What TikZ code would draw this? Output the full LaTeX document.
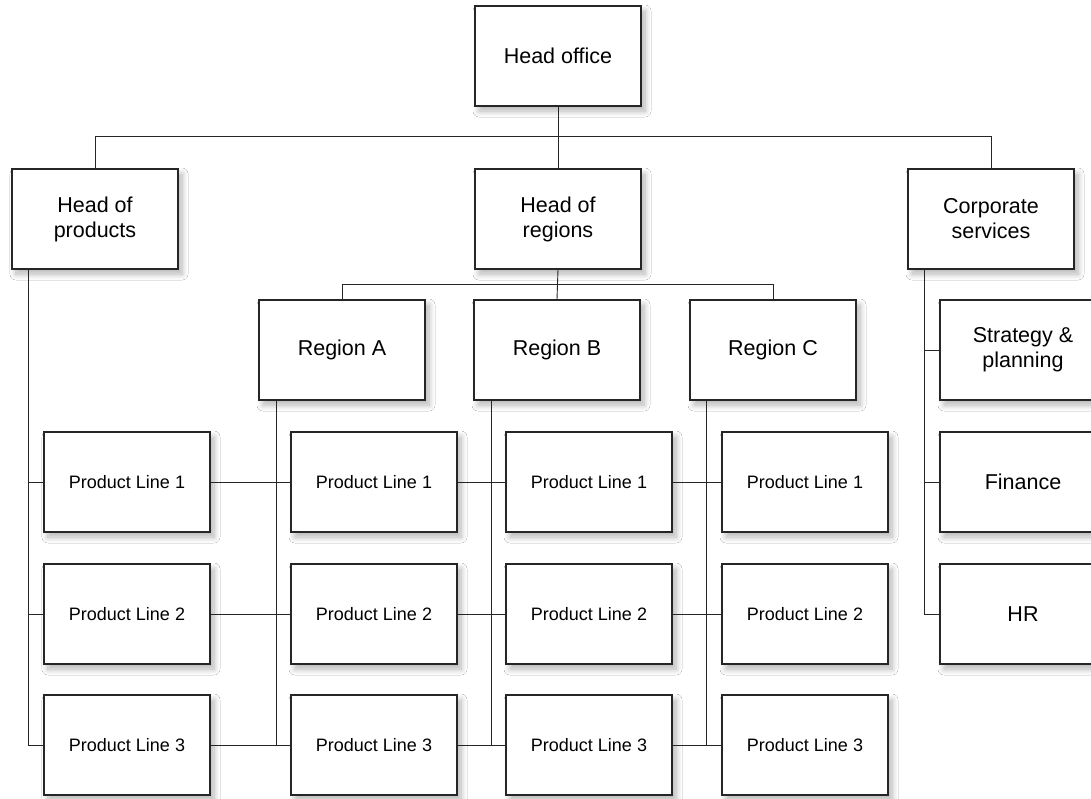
\documentclass[tikz,border=0pt]{standalone}
\usepackage{fontspec}
\setmainfont{Liberation Sans}
\usetikzlibrary{shadows.blur}
\begin{document}
\begin{tikzpicture}[x=1bp, y=-1bp,
  unit/.style={draw=black!85, line width=1.1bp, fill=white, rectangle,
    minimum width=166bp, minimum height=100bp, inner sep=0pt, align=center,
    blur shadow={shadow xshift=4bp, shadow yshift=-5bp, shadow opacity=30,
      shadow blur radius=6bp, shadow blur steps=10},
    font=\fontsize{21.5bp}{25bp}\selectfont},
  prod/.style={unit, font=\fontsize{18bp}{21bp}\selectfont},
  link/.style={draw=black!85, line width=0.9bp}]
\useasboundingbox (0,0) rectangle (1091,799);
\clip (0,0) rectangle (1091,799);
\fill[white] (0,0) rectangle (1091,799);

% top level and its three branches
\node[unit] (ho) at (558,56)  {Head office};
\node[unit] (hp) at (95,219)  {Head of\\products};
\node[unit] (hr) at (558,219) {Head of\\regions};
\node[unit] (cs) at (991,219) {Corporate\\services};

% regions
\node[unit] (ra) at (342,350) {Region A};
\node[unit] (rb) at (557,350) {Region B};
\node[unit] (rc) at (773,350) {Region C};

% corporate services units
\node[unit] (sp) at (1023,350) {Strategy \&\\planning};
\node[unit] (fi) at (1023,482) {Finance};
\node[unit] (hx) at (1023,614) {HR};

% product-line grid: columns 1..4, rows 1..3
\foreach \c/\x in {1/127, 2/374, 3/589, 4/805}{
  \node[prod] (p\c1) at (\x,482) {Product Line 1};
  \node[prod] (p\c2) at (\x,614) {Product Line 2};
  \node[prod] (p\c3) at (\x,745) {Product Line 3};
}

% head office bus
\draw[link] (ho.south) -- (hr.north);
\draw[link] (hp.north) -- ++(0,-32) -| (cs.north);

% regions bus
\draw[link] (hr.south) -- (rb.north);
\draw[link] (ra.north) -- ++(0,-15) -| (rc.north);

% spines
\coordinate (sP) at (28,269);
\coordinate (sA) at (276,400);
\coordinate (sB) at (491,400);
\coordinate (sC) at (706,400);
\coordinate (sS) at (924,269);
\draw[link] (sP) |- (p13.west);
\draw[link] (sA) -- (sA |- p13.west);
\draw[link] (sB) -- (sB |- p33.west);
\draw[link] (sC) -- (sC |- p43.west);
\draw[link] (sS) |- (hx.west);

% product-line ties
\foreach \r in {1,2,3}{
  \draw[link] (p1\r.west) -- (p1\r.west -| sP);
  \draw[link] (p1\r.east) -- (p2\r.west);
  \draw[link] (p2\r.east) -- (p3\r.west);
  \draw[link] (p3\r.east) -- (p4\r.west);
}

% corporate ties
\draw[link] (sp.west) -- (sp.west -| sS);
\draw[link] (fi.west) -- (fi.west -| sS);
\end{tikzpicture}
\end{document}
